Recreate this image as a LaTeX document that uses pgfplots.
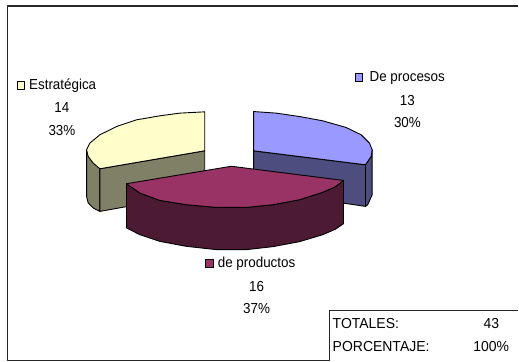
\documentclass[border=0pt]{standalone}
\usepackage{graphicx}
\usepackage{pgfplots}
\pgfplotsset{compat=1.18}
\usepackage{fontspec}
\setmainfont{Liberation Sans}
\definecolor{bl}{HTML}{9999FF}\definecolor{bld}{HTML}{4D4D80}
\definecolor{ye}{HTML}{FFFFCC}\definecolor{yed}{HTML}{808066}
\definecolor{ma}{HTML}{993366}\definecolor{mad}{HTML}{4D1A33}
\tikzset{lab/.style={font=\fontsize{14.5bp}{16bp}\selectfont,inner sep=0pt,text=black}}
\newcommand{\lgd}[1]{\scalebox{0.925}[1]{#1}}
\newcommand{\tbl}[1]{\scalebox{0.965}[1]{#1}}
\begin{document}
\begin{tikzpicture}[x=1bp,y=1bp]
\begin{axis}[at={(0,0)},anchor=south west,scale only axis,width=519bp,height=362bp,
 xmin=0,xmax=519,ymin=0,ymax=362,y dir=reverse,axis lines=none,clip=false,
 every axis plot/.append style={line width=0.9bp,black,line join=round}]
% page extents
\addplot[draw=none,forget plot] coordinates {(0,0)(519,362)};
% frame
\addplot[line width=1.5bp,color=black!85] coordinates {(7.5,60)(7.5,6)(519,6)};
\addplot[line width=1.5bp,color=black!85] coordinates {(7.5,60)(7.5,361)(330,361)(330,311)(519,311)};
% yellow slice
\addplot[fill=yed] coordinates {(86.7,150)(100,169)(100,211.7)(93.3,208.3)(88.3,203.3)(86.7,196.7)} -- cycle;
\addplot[fill=yed] coordinates {(100,169)(205,151)(205,193)(100,211.7)} -- cycle;
\addplot[fill=ye] coordinates {(205,112)(180,113.3)(160,116)(136.7,120)(116.7,126.7)(100,135)(90,143.3)(86.7,150)(88.3,156.7)(93.3,163.3)(100,169)(205,151)} -- cycle;
% blue slice
\addplot[fill=bld] coordinates {(254,151)(366,165)(366,206.7)(254,190)} -- cycle;
\addplot[fill=bld] coordinates {(372.7,150)(371.7,156.7)(366,165)(366,206.7)(368.3,205)(372.7,195)} -- cycle;
\addplot[fill=bl] coordinates {(254,111.7)(276.7,113.3)(300,116.7)(323.3,121)(346.7,127.7)(361.7,135)(370,143.3)(372.7,150)(371.7,156.7)(366,165)(254,151)} -- cycle;
% maroon slice
\addplot[fill=mad] coordinates {(126.7,184)(126.7,228.3)(140,235)(160,241.7)(186.7,246.7)(216.7,250)(246.7,250)(273.3,247)(300,242)(323.3,235)(336,229.5)(344,224)(344,180.7)(336,187)(323.3,192.5)(300,200)(273.3,205)(246.7,207.7)(216.7,207.7)(186.7,205)(160,200.7)(140,193.3)} -- cycle;
\addplot[fill=ma] coordinates {(231.7,166.5)(344,180.7)(336,187)(323.3,192.5)(300,200)(273.3,205)(246.7,207.7)(216.7,207.7)(186.7,205)(160,200.7)(140,193.3)(126.7,184)} -- cycle;
% legend keys
\addplot[fill=ye,line width=1bp] coordinates {(18,82)(25,82)(25,90)(18,90)} -- cycle;
\addplot[fill=bl,line width=1bp] coordinates {(356,74)(363,74)(363,82)(356,82)} -- cycle;
\addplot[fill=ma,line width=1bp] coordinates {(206,260)(214,260)(214,268)(206,268)} -- cycle;
% labels
\node[lab,anchor=west] at (axis cs:29,86) {\lgd{Estratégica}};
\node[lab] at (axis cs:62,108) {\lgd{14}};
\node[lab] at (axis cs:62,131) {\lgd{33\%}};
\node[lab,anchor=west] at (axis cs:370,78) {\lgd{De procesos}};
\node[lab] at (axis cs:408,101) {\lgd{13}};
\node[lab] at (axis cs:408,123) {\lgd{30\%}};
\node[lab,anchor=west] at (axis cs:218,264) {\lgd{de productos}};
\node[lab] at (axis cs:257,287) {\lgd{16}};
\node[lab] at (axis cs:257,309) {\lgd{37\%}};
\node[lab,anchor=west] at (axis cs:333,324) {\tbl{TOTALES:}};
\node[lab,anchor=west] at (axis cs:333,347) {\tbl{PORCENTAJE:}};
\node[lab] at (axis cs:492,324) {\tbl{43}};
\node[lab] at (axis cs:492,347) {\tbl{100\%}};
\end{axis}
\end{tikzpicture}
\end{document}
